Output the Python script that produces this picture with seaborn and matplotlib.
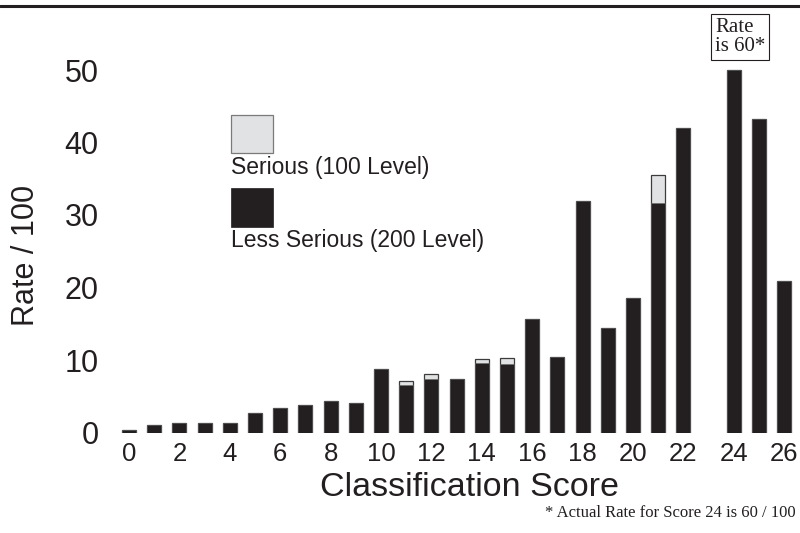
import numpy as np
import pandas as pd
import matplotlib
matplotlib.use("Agg")
import matplotlib.pyplot as plt
import seaborn as sns
from matplotlib.patches import Rectangle
from matplotlib.lines import Line2D

# ---- data ----
scores = list(range(27))
less_serious = [0.3, 1.0, 1.3, 1.35, 1.35, 2.75, 3.4, 3.8, 4.4, 4.1,
                8.8, 6.5, 7.4, 7.4, 9.55, 9.45, 15.6, 10.4, 32.0, 14.4,
                18.6, 31.7, 42.0, 0.0, 60.0, 43.3, 20.9]
serious = [0, 0, 0, 0, 0, 0, 0, 0, 0, 0,
           0, 0.6, 0.7, 0, 0.55, 0.8, 0, 0, 0, 0,
           0, 3.8, 0, 0, 0, 0, 0]
y_ticks = [0, 10, 20, 30, 40, 50]
x_ticks = list(range(0, 27, 2))
display_cap = 50  # bars above this are drawn truncated (score 24 is 60)

series_labels = ["Serious (100 Level)", "Less Serious (200 Level)"]
x_label = "Classification Score"
y_label = "Rate / 100"
note_box = "Rate\nis 60*"
footnote = "* Actual Rate for Score 24 is 60 / 100"

BLACK = "#231f20"
GREY = "#e1e2e4"
EDGE = "#3c3c3c"

df = pd.DataFrame({"score": scores, "less": less_serious, "serious": serious})
df["total_shown"] = np.minimum(df["less"] + df["serious"], display_cap)
df["less_shown"] = np.minimum(df["less"], display_cap)
df_drawn = df[df["less"] + df["serious"] > 0]  # no bar where rate is zero

sns.set_theme(style="white")
plt.rcParams["font.family"] = ["Liberation Sans", "DejaVu Sans"]

W, H = 800, 533
fig = plt.figure(figsize=(8, 5.33), dpi=100)

# axes geometry in pixels
x0_px, unit_x = 129.0, 25.2
base_px, unit_y = 432.5, 7.25
xmin, xmax = -0.6, 26.6
top_px = 12.0
ymax = (base_px - top_px) / unit_y
left = (x0_px + xmin * unit_x) / W
width = (xmax - xmin) * unit_x / W
bottom = (H - base_px) / H
height = (base_px - top_px) / H
ax = fig.add_axes([left, bottom, width, height])

sns.barplot(data=df_drawn, x="score", y="total_shown", order=scores, color=GREY,
            saturation=1, width=0.56, errorbar=None, edgecolor=EDGE,
            linewidth=0.9, ax=ax)
sns.barplot(data=df_drawn, x="score", y="less_shown", order=scores, color=BLACK,
            saturation=1, width=0.56, errorbar=None, edgecolor="#6a6a6a",
            linewidth=0.4, ax=ax)

ax.set_xlim(xmin, xmax)
ax.set_ylim(0, ymax)
ax.set_xticks(x_ticks)
ax.set_xticklabels([str(t) for t in x_ticks])
ax.set_yticks(y_ticks)
ax.set_yticklabels([str(t) for t in y_ticks])
ax.tick_params(axis="x", length=0, pad=7, labelsize=18.5, colors=BLACK)
ax.tick_params(axis="y", length=0, pad=11, labelsize=22, colors=BLACK)
ax.set_xlabel("")
ax.set_ylabel("")
for s in ax.spines.values():
    s.set_visible(False)
ax.patch.set_alpha(0)

# annotation for truncated bar
ax.text(24.25, (base_px - 37) / unit_y, note_box, ha="center", va="center",
        multialignment="left",
        family=["Liberation Serif"], fontsize=15, linespacing=1.0, color=BLACK,
        bbox=dict(boxstyle="square,pad=0.2", fc="white", ec=BLACK, lw=0.8),
        clip_on=False)

# axis labels
fig.text(470 / W, 1 - 496.5 / H, x_label, ha="center", va="baseline",
         fontsize=24.5, color=BLACK)
fig.text(26 / W, 1 - 255 / H, y_label, ha="center", va="center",
         rotation=90, fontsize=22, color=BLACK)

# legend (handles above their labels)
def fx(px):
    return px / W

def fy(py):
    return 1 - py / H

fig.patches.append(Rectangle((fx(231), fy(153)), 42 / W, 38 / H,
                             transform=fig.transFigure, fc=GREY, ec="#7a7a7a", lw=0.9))
fig.text(fx(231), fy(174), series_labels[0], ha="left", va="baseline",
         fontsize=16.5, color=BLACK)
fig.patches.append(Rectangle((fx(231), fy(227)), 42 / W, 39 / H,
                             transform=fig.transFigure, fc=BLACK, ec=BLACK, lw=0.5))
fig.text(fx(231), fy(246.7), series_labels[1], ha="left", va="baseline",
         fontsize=16.5, color=BLACK)

# top rule
fig.add_artist(Line2D([0, 1], [fy(5.5), fy(5.5)], transform=fig.transFigure,
                      color=BLACK, lw=2.2))

# footnote
fig.text(fx(796), fy(513), footnote, ha="right", va="center",
         family=["Liberation Serif"], fontsize=12, color=BLACK)

fig.savefig("out.png", dpi=100)
